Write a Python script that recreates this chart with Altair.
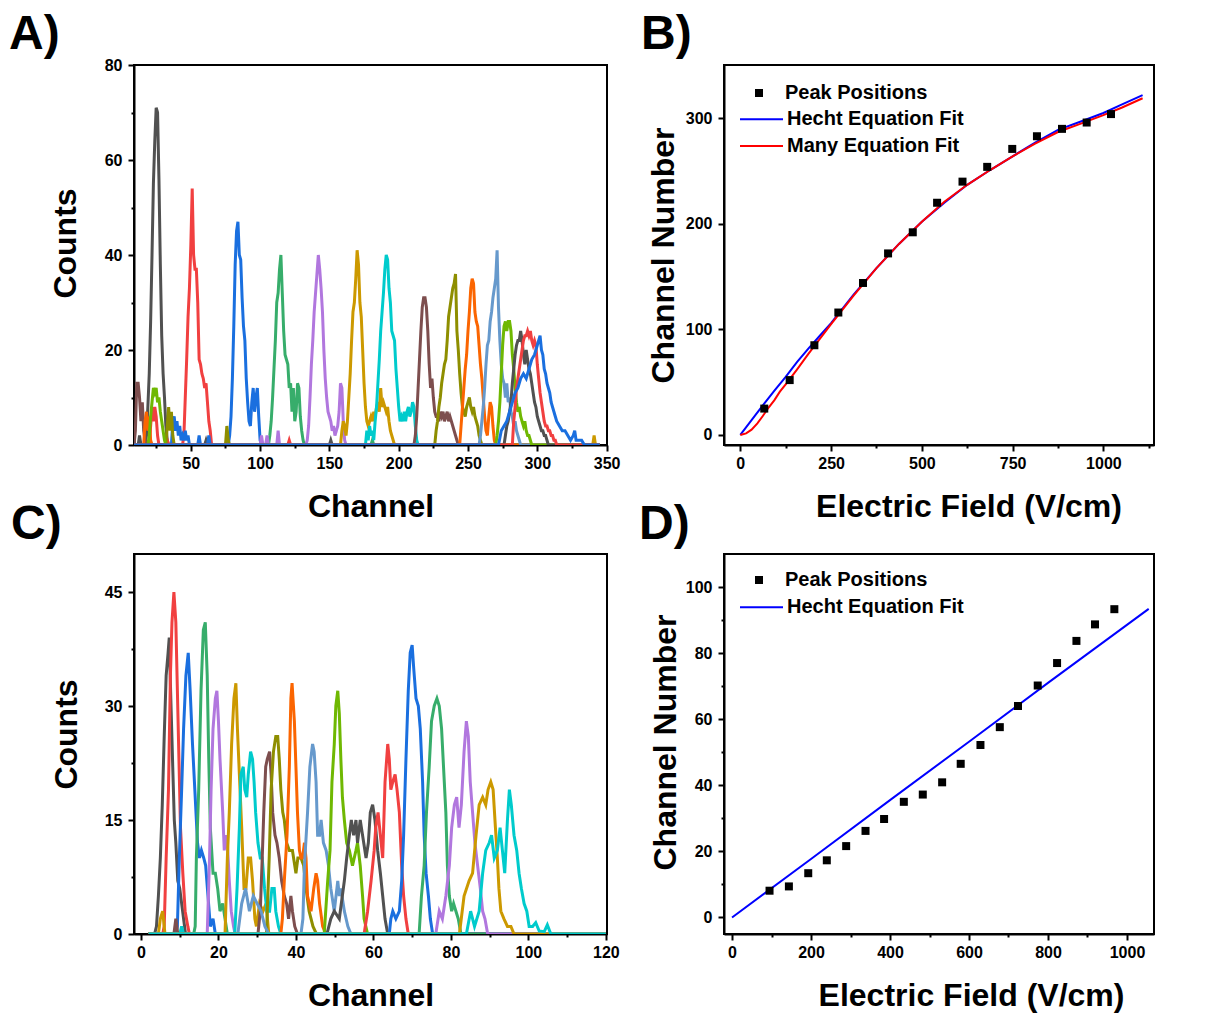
import altair as alt
import pandas as pd

FONT = "Liberation Sans"
PALETTE = ["#515151", "#F14040", "#1A6FDF", "#37AD6B", "#B177DE", "#CC9900",
           "#00CBCC", "#7D4E4E", "#8E8E00", "#FB6501", "#6699CC", "#6FB802"]

# ---------------- Panel A : spectra (channel, counts) ----------------
A01 = [(9,0),(12,0),(13,2),(14,0),(17,0),(18,2),(19,8),(20,15),(21,26),(22,40),(23,55),(24,64),(25,71),(26,70),(27,56),(28,38),(29,23),(30,15),(31,10),(32,4),(33,1),(34,0),(60,0),(61,1),(62,0),(150,0),(151,1),(152,0),(345,0)]
A02 = [(9,0),(20,0),(21,4),(22,8),(23,5),(24,8),(25,6),(26,2),(27,0),(32,0),(33,1),(34,0),(44,0),(45,2),(46,10),(47,18),(48,27),(49,33),(50,42),(51,54),(52,40),(53,37),(54,37),(55,30),(56,18),(57,17),(58,15),(59,14),(60,12),(61,13),(62,9),(63,5),(64,3),(65,0),(120,0),(121,1),(122,0),(345,0)]
A03 = [(9,0),(36,0),(37,5),(38,6),(39,3),(40,5),(41,2),(42,4),(43,1),(44,2),(45,1),(46,3),(47,1),(48,2),(49,0),(55,0),(56,2),(57,0),(62,0),(63,2),(64,0),(77,0),(78,2),(79,6),(80,14),(81,25),(82,38),(83,45),(84,47),(85,40),(86,39),(87,31),(88,25),(89,22),(90,14),(91,9),(92,5),(93,4),(94,9),(95,12),(96,7),(97,10),(98,12),(99,6),(100,1),(101,0),(345,0)]
A04 = [(9,0),(106,0),(107,2),(108,5),(109,10),(110,16),(111,22),(112,30),(113,32),(114,37),(115,40),(116,32),(117,24),(118,19),(119,18),(120,17),(121,12),(122,13),(123,7),(124,12),(125,5),(126,7),(127,13),(128,12),(129,6),(130,3),(131,1),(132,0),(180,0),(181,1),(182,0),(345,0)]
A05 = [(9,0),(100,0),(101,2),(102,0),(104,0),(105,2),(106,0),(112,0),(113,3),(114,0),(133,0),(134,1),(135,4),(136,10),(137,17),(138,22),(139,28),(140,32),(141,36),(142,40),(143,37),(144,33),(145,28),(146,20),(147,14),(148,10),(149,7),(150,6),(151,5),(152,3),(153,4),(154,2),(155,3),(156,4),(157,7),(158,13),(159,12),(160,5),(161,1),(162,0),(345,0)]
A06 = [(9,0),(158,0),(159,3),(160,5),(161,4),(162,2),(163,5),(164,10),(165,15),(166,22),(167,28),(168,30),(169,35),(170,41),(171,38),(172,30),(173,27),(174,20),(175,13),(176,8),(177,5),(178,4),(179,5),(180,6),(181,5),(182,7),(183,6),(184,8),(185,9),(186,7),(187,12),(188,8),(189,9),(190,8),(191,7),(192,8),(193,5),(194,3),(195,2),(196,1),(197,0),(340,0),(341,2),(342,0),(345,0)]
A07 = [(9,0),(176,0),(177,3),(178,1),(179,4),(180,2),(181,3),(182,1),(183,5),(184,8),(185,13),(186,18),(187,24),(188,28),(189,32),(190,37),(191,40),(192,39),(193,33),(194,30),(195,24),(196,23),(197,22),(198,16),(199,12),(200,8),(201,5),(202,6),(203,5),(204,7),(205,5),(206,7),(207,8),(208,6),(209,7),(210,9),(211,8),(212,4),(213,1),(214,0),(345,0)]
A08 = [(9,0),(10,3),(11,13),(12,13),(13,10),(14,5),(15,9),(16,3),(17,1),(18,0),(211,0),(212,2),(213,6),(214,12),(215,18),(216,24),(217,29),(218,31),(219,31),(220,29),(221,24),(222,17),(223,12),(224,14),(225,10),(226,7),(227,6),(228,6),(229,5),(230,7),(231,6),(232,7),(233,5),(234,6),(235,7),(236,5),(237,6),(238,5),(239,4),(240,3),(241,2),(242,1),(243,0),(345,0)]
A09 = [(9,0),(32,0),(33,4),(34,8),(35,3),(36,7),(37,2),(38,0),(75,0),(76,4),(77,1),(78,0),(226,0),(227,3),(228,5),(229,8),(230,10),(231,13),(232,15),(233,17),(234,18),(235,22),(236,27),(237,29),(238,31),(239,33),(240,34),(241,36),(242,24),(243,20),(244,15),(245,11),(246,8),(247,7),(248,6),(249,8),(250,9),(251,10),(252,8),(253,7),(254,8),(255,6),(256,5),(257,4),(258,2),(259,1),(260,0),(345,0)]
A10 = [(9,0),(16,0),(17,5),(18,7),(19,3),(20,6),(21,1),(22,0),(244,0),(245,4),(246,8),(247,12),(248,16),(249,19),(250,24),(251,28),(252,33),(253,35),(254,34),(255,28),(256,26),(257,25),(258,21),(259,17),(260,14),(261,10),(262,6),(263,3),(264,2),(265,6),(266,9),(267,8),(268,4),(269,1),(270,0),(345,0)]
A11 = [(9,0),(258,0),(259,2),(260,5),(261,8),(262,12),(263,17),(264,21),(265,22),(266,26),(267,28),(268,31),(269,33),(270,35),(271,41),(272,29),(273,22),(274,17),(275,14),(276,13),(277,10),(278,13),(279,9),(280,10),(281,7),(282,6),(283,4),(284,5),(285,3),(286,2),(287,1),(288,0),(345,0)]
A12 = [(9,0),(19,0),(20,2),(21,6),(22,9),(23,12),(24,11),(25,12),(26,9),(27,10),(28,7),(29,5),(30,3),(31,1),(32,0),(270,0),(271,2),(272,5),(273,9),(274,15),(275,21),(276,25),(277,26),(278,24),(279,26),(280,26),(281,24),(282,19),(283,16),(284,12),(285,9),(286,7),(287,8),(288,6),(289,5),(290,4),(291,5),(292,3),(293,2),(294,2),(295,1),(296,0),(345,0)]
A13 = [(9,0),(276,0),(277,2),(278,4),(279,5),(280,7),(281,9),(282,13),(283,16),(284,19),(285,21),(286,22),(287,22),(288,24),(289,22),(290,19),(291,17),(292,20),(293,18),(294,16),(295,15),(296,13),(297,11),(298,9),(299,8),(300,6),(301,5),(302,4),(303,3),(304,3),(305,2),(306,2),(307,1),(308,0),(345,0)]
A14 = [(9,0),(282,0),(283,5),(284,8),(285,12),(286,14),(287,16),(288,18),(289,20),(290,22),(291,23),(292,23),(293,24),(294,23),(295,24),(296,22),(297,21),(298,22),(299,21),(300,17),(301,14),(302,11),(303,9),(304,7),(305,5),(306,4),(307,4),(308,3),(309,3),(310,2),(311,2),(312,1),(313,1),(314,0),(345,0)]
A15 = [(9,0),(272,0),(274,3),(276,4),(278,5),(280,7),(282,9),(284,11),(286,12),(288,14),(290,15),(292,14),(294,16),(296,18),(298,19),(299,20),(300,21),(301,22),(302,23),(303,20),(304,19),(305,16),(306,15),(307,13),(308,12),(309,11),(310,9),(311,8),(312,7),(313,6),(314,5),(316,4),(318,3),(320,3),(322,2),(324,1),(326,2),(327,3),(328,1),(330,1),(332,1),(334,0),(345,0)]
A_CURVES = [A01, A02, A03, A04, A05, A06, A07, A08, A09, A10, A11, A12, A13, A14, A15]
A_XTICKS = [50, 100, 150, 200, 250, 300, 350]
A_XMINOR = [25, 75, 125, 175, 225, 275, 325]
A_YTICKS = [0, 20, 40, 60, 80]
A_YMINOR = [10, 30, 50, 70]

# ---------------- Panel C : spectra ----------------
C01 = [(2,0),(3.5,0),(4,1),(4.5,5),(5,10),(5.5,17),(6,26),(6.5,34),(7,37),(7.3,39),(7.7,31),(8.2,22),(8.6,15),(9,12),(9.5,7),(10,6),(10.5,4),(11,2),(11.5,0),(120,0)]
C02 = [(2,0),(5.6,0),(6,1),(6.5,10),(7.1,19),(7.6,34),(8,41),(8.5,45),(9,41),(9.4,32),(9.8,23),(10.2,14),(10.8,8),(11.4,3),(12.1,1),(12.5,0),(120,0)]
C03 = [(2,0),(9,0),(9.4,1),(9.9,10),(10.5,19),(11,27),(11.6,34),(12.2,37),(12.7,32),(13.3,25),(13.9,19),(14.6,12),(15.1,10),(15.6,11),(16.2,10),(16.7,9),(17.3,5),(17.9,1),(18.6,2),(19.2,0),(120,0)]
C04 = [(2,0),(13.6,0),(14,1),(14.3,10),(14.9,19),(15.5,32),(16.1,40),(16.6,41),(17.1,34),(17.5,23),(17.9,14),(18.6,8),(19.2,8),(19.8,6),(20.4,3),(21.1,4),(21.7,2),(22.3,0),(120,0)]
C05 = [(2,0),(17.1,0),(17.7,10),(18.1,19),(18.6,27),(19.2,31),(19.6,32),(20,28),(20.4,23),(21.1,16),(21.5,11),(22,13),(22.3,12),(22.8,7),(23.3,3),(23.9,1),(24.3,0),(120,0)]
C06 = [(2,0),(4.5,0),(5,2),(5.6,3),(6.2,0),(21.7,0),(22.3,10),(22.8,16),(23.4,25),(24,31),(24.5,33),(24.9,27),(25.4,21),(26,14),(26.6,6),(27.1,6),(27.7,10),(28.3,10),(28.8,7),(29.4,2),(29.8,1),(30.6,4),(31.5,3),(32.3,4),(33,0),(120,0)]
C07 = [(2,0),(10,0),(10.5,1),(11,0),(24.2,0),(24.8,6),(25.4,14),(25.8,21),(26.4,22),(26.8,19),(27.3,18),(27.7,21),(28.3,24),(28.8,23),(29.2,20),(29.6,16),(30.2,12),(30.8,10),(31.3,10),(31.9,6),(32.5,3),(33.2,3),(33.8,6),(34.4,6),(34.8,3),(35.5,1),(36.1,0),(120,0)]
C08 = [(2,0),(8.5,0),(9,2),(9.5,0),(30.2,0),(30.8,3),(31.3,10),(31.7,16),(32.2,22),(32.6,23),(33.2,24),(33.6,21),(34,16),(34.6,13),(35.1,12),(35.7,10),(36.3,7),(37,5),(37.6,4),(38.1,2),(38.7,5),(39.1,3),(39.7,1),(40.4,0),(120,0)]
C09 = [(2,0),(32.4,0),(33.1,10),(33.6,19),(34.2,24),(34.8,26),(35.3,26),(35.7,23),(36.1,19),(36.6,16),(37,15),(37.6,12),(38.3,11),(39.1,11),(40,8),(40.5,10),(41.3,10),(42,9),(42.6,6),(43.4,3),(44.4,1),(45.3,0),(120,0)]
C10 = [(2,0),(36.1,0),(36.5,2),(37,7),(37.7,13),(38.3,22),(38.7,31),(39,33),(39.6,28),(40,22),(40.4,16),(40.9,11),(41.3,10),(41.7,10),(42.2,12),(42.6,10),(43,5),(43.9,3),(44.6,6),(45.2,8),(45.6,7),(46.1,4),(46.9,1),(47.7,0),(120,0)]
C11 = [(2,0),(25,0),(26,4),(27,6),(28,3),(29,5),(30,4),(31,3),(32,1),(33,0),(41.3,0),(41.8,2),(42.2,9),(43,16),(43.6,22),(44.3,25),(44.7,24),(45.2,20),(45.6,13),(46.1,13),(46.5,15),(47.1,12),(47.8,11),(48.4,9),(49,6),(49.9,3),(50.8,7),(51.2,5),(51.6,6),(52.5,3),(53.4,1),(54.2,0),(120,0)]
C12 = [(2,0),(47.3,0),(48.2,7),(48.8,11),(49.3,20),(49.9,25),(50.3,30),(50.8,32),(51.2,29),(51.6,23),(52,18),(52.5,15),(53.1,12),(53.8,11),(54.6,9),(55.5,11),(55.9,12),(56.6,9),(57.2,5),(57.6,2),(58.5,0),(120,0)]
C13 = [(2,0),(48,0),(49,2),(49.9,3),(51.2,2),(52.5,7),(53.1,10),(53.8,13),(54.3,15),(54.9,13),(55.5,15),(55.9,12),(56.6,15),(57.2,13),(58.1,10),(58.7,12),(59.2,16),(59.8,17),(60.4,15),(61.1,11),(61.8,8),(62.4,5),(63,2),(63.7,0),(120,0)]
C14 = [(2,0),(57.6,0),(58.5,3),(59.4,7),(60.2,11),(60.6,14),(61.2,16),(61.8,13),(62.4,10),(63,20),(63.7,25),(64.1,23),(64.5,19),(65,20),(65.6,21),(66.1,19),(66.7,16),(67.3,9),(67.8,5),(68.4,2),(69,0),(120,0)]
C15 = [(2,0),(64.1,0),(64.5,2),(65,3),(65.8,2),(66.7,3),(67.3,7),(67.8,13),(68.4,23),(69,32),(69.5,37),(70,38),(70.4,35),(71,31),(71.6,30),(72.1,27),(72.7,20),(73.1,13),(73.6,8),(74.2,5),(74.7,2),(75.3,0),(120,0)]
C16 = [(2,0),(71.8,0),(72.4,5),(73.1,9),(73.7,16),(74.4,22),(75,28),(75.7,30),(76.4,31),(77,30),(77.6,27),(78.1,22),(78.7,16),(79.1,9),(79.6,5),(80.2,3),(80.7,4),(81.3,3),(81.9,2),(82.6,0),(120,0)]
C17 = [(2,0),(76.1,0),(77,3),(77.8,2),(78.7,5),(79.6,9),(80.2,14),(80.9,17),(81.5,18),(82.1,14),(82.7,17),(83.4,24),(84,28),(84.5,26),(85,20),(85.6,16),(86.2,12),(86.9,9),(87.6,6),(88.2,3),(88.8,2),(89.5,0),(120,0)]
C18 = [(2,0),(82.2,0),(83.4,5),(84.7,7),(85.6,8),(86.5,13),(87.3,17),(88.2,18),(89,17),(89.6,19),(90.3,20),(90.9,19),(91.5,14),(92,10),(92.4,6),(92.9,3),(93.7,2),(94.6,1),(95.5,1),(96.3,0),(120,0)]
C19 = [(2,0),(84,0),(85.1,3),(86.1,1),(87.3,3),(88.2,8),(89,11),(89.9,12),(90.5,13),(91.2,10),(92,11),(92.7,14),(93.3,11),(93.9,8),(94.6,15),(95.1,19),(95.6,17),(96.3,13),(97,11),(97.6,8),(98.2,6),(98.9,4),(99.6,3),(100.2,1),(101.1,1),(101.9,1.5),(102.8,0.4),(104.1,0.3),(104.9,1.2),(105.8,0),(120,0)]
C_CURVES = [C01, C02, C03, C04, C05, C06, C07, C08, C09, C10, C11, C12, C13, C14, C15, C16, C17, C18, C19]
C_XTICKS = [0, 20, 40, 60, 80, 100, 120]
C_XMINOR = [10, 30, 50, 70, 90, 110]
C_YTICKS = [0, 15, 30, 45]
C_YMINOR = [7.5, 22.5, 37.5]

# ---------------- Panel B ----------------
B_FIELD = [66, 136, 204, 270, 338, 407, 475, 542, 612, 680, 749, 817, 886, 954, 1021]
B_PEAK = [25, 52, 85, 116, 144, 172, 192, 220, 240, 254, 271, 283, 290, 296, 304]
B_HECHT_E = [0, 31, 62, 94, 125, 156, 188, 219, 250, 312, 375, 437, 500, 562, 625, 688, 750, 812, 875, 938, 1000, 1050, 1108]
B_HECHT_Y = [0, 14, 28, 42, 55, 69, 82, 94, 106, 133, 158, 181, 202, 220, 237, 251, 264, 277, 289, 297, 305, 313, 322]
B_MANY_E = [0, 16, 31, 47, 62, 78, 94, 109, 125, 156, 188, 219, 250, 312, 375, 437, 500, 562, 625, 688, 750, 812, 875, 938, 1000, 1050, 1108]
B_MANY_Y = [0, 1.5, 5, 11, 18, 26, 33, 41, 48, 62, 77, 91, 105, 132, 158, 181, 202, 221, 237, 251, 264, 276, 287, 295, 303, 310, 319]
B_XTICKS = [0, 250, 500, 750, 1000]
B_XMINOR = [125, 375, 625, 875, 1125]
B_YTICKS = [0, 100, 200, 300]

# ---------------- Panel D ----------------
D_FIELD = [95, 144, 193, 240, 289, 338, 385, 435, 483, 532, 579, 629, 678, 724, 774, 823, 872, 919, 968]
D_PEAK = [8.1, 9.4, 13.4, 17.3, 21.6, 26.2, 29.8, 35.0, 37.2, 40.9, 46.5, 52.2, 57.6, 64.0, 70.2, 77.0, 83.7, 88.7, 93.3]
D_HECHT_E = [0, 200, 400, 600, 800, 1055]
D_HECHT_Y = [0, 17.7, 35.5, 53.2, 71.0, 93.4]
D_XTICKS = [0, 200, 400, 600, 800, 1000]
D_XMINOR = [100, 300, 500, 700, 900]
D_YTICKS = [0, 20, 40, 60, 80, 100]
D_YMINOR = [10, 30, 50, 70, 90]


def spectra_df(curves, prefix):
    rows = []
    for i, pts in enumerate(curves):
        name = f"{prefix}{i + 1:02d}"
        for ch, ct in pts:
            rows.append({"curve": name, "channel": ch, "counts": ct})
    return pd.DataFrame(rows)


def major_axis(orient, values, title, title_x=None, title_y=None, label_padding=4):
    kw = dict(orient=orient, values=values, format="d", title=title,
              tickSize=6, tickWidth=2, tickColor="black",
              domain=True, domainColor="black", domainWidth=2, grid=False,
              labelFont=FONT, labelFontSize=16, labelFontWeight="bold",
              labelColor="black", labelPadding=label_padding,
              labelFlush=False, labelOverlap=False,
              titleFont=FONT, titleFontSize=32, titleFontWeight="bold",
              titleColor="black", titleBaseline="middle")
    if title_x is not None:
        kw["titleX"] = title_x
    if title_y is not None:
        kw["titleY"] = title_y
    return alt.Axis(**kw)


def minor_axis(orient, values):
    return alt.Axis(orient=orient, values=values, labels=False, title=None,
                    tickSize=3, tickWidth=2, tickColor="black",
                    domain=False, grid=False)


def minor_layer(xname, yname, xscale, yscale, xvals, yvals, xmid, ymid):
    df = pd.DataFrame({xname: [xmid], yname: [ymid]})
    yaxis = minor_axis("left", yvals) if yvals else None
    return alt.Chart(df).mark_point(opacity=0).encode(
        x=alt.X(f"{xname}:Q", scale=xscale, axis=minor_axis("bottom", xvals)),
        y=alt.Y(f"{yname}:Q", scale=yscale, axis=yaxis),
    )


def label_layer(text, dx, dy):
    return alt.Chart(pd.DataFrame({"t": [text]})).mark_text(
        align="left", baseline="alphabetic", font=FONT, fontSize=48,
        fontWeight="bold", color="black",
    ).encode(text="t:N", x=alt.value(dx), y=alt.value(dy))


def spectra_panel(curves, prefix, xdom, ydom, xt, xm, yt, ym, tag, tag_dx, tag_dy,
                  ytitle_x, ytitle_y, width):
    df = spectra_df(curves, prefix)
    names = [f"{prefix}{i + 1:02d}" for i in range(len(curves))]
    colors = [PALETTE[i % len(PALETTE)] for i in range(len(curves))]
    xs = alt.Scale(domain=xdom, nice=False, zero=False)
    ys = alt.Scale(domain=ydom, nice=False, zero=False)
    lines = alt.Chart(df).mark_line(strokeWidth=3, clip=True).encode(
        x=alt.X("channel:Q", scale=xs,
                axis=major_axis("bottom", xt, "Channel", title_y=61)),
        y=alt.Y("counts:Q", scale=ys,
                axis=major_axis("left", yt, "Counts", title_x=ytitle_x,
                                title_y=ytitle_y, label_padding=6)),
        color=alt.Color("curve:N", scale=alt.Scale(domain=names, range=colors),
                        legend=None),
    )
    minor = minor_layer("channel", "counts", xs, ys, xm, ym,
                        (xdom[0] + xdom[1]) / 2, (ydom[0] + ydom[1]) / 2)
    return alt.layer(lines, minor, label_layer(tag, tag_dx, tag_dy)).resolve_axis(
        x="independent", y="independent").properties(width=width, height=380)


def fit_panel(fit_df, model_names, model_colors, pts_df, xdom, ydom, xt, xm, yt, ym,
              tag, tag_dx, tag_dy, ytitle_x, ytitle_y, xtitle_x, leg_y_pts, leg_y_lines):
    xs = alt.Scale(domain=xdom, nice=False, zero=False)
    ys = alt.Scale(domain=ydom, nice=False, zero=False)
    lines = alt.Chart(fit_df).mark_line(strokeWidth=2, clip=True).encode(
        x=alt.X("field:Q", scale=xs,
                axis=major_axis("bottom", xt, "Electric Field (V/cm)",
                                title_x=xtitle_x, title_y=61)),
        y=alt.Y("channel:Q", scale=ys,
                axis=major_axis("left", yt, "Channel Number", title_x=ytitle_x,
                                title_y=ytitle_y, label_padding=6)),
        color=alt.Color("model:N",
                        scale=alt.Scale(domain=model_names, range=model_colors),
                        legend=alt.Legend(orient="none", legendX=15, legendY=leg_y_lines,
                                          title=None, symbolType="stroke",
                                          symbolSize=1849, symbolStrokeWidth=2,
                                          clipHeight=20, rowPadding=6.7,
                                          labelOffset=3, padding=0, labelLimit=500,
                                          labelFont=FONT, labelFontSize=20,
                                          labelFontWeight="bold", labelColor="black")),
    )
    pts = alt.Chart(pts_df).mark_point(filled=True, size=64, color="black",
                                       opacity=1).encode(
        x=alt.X("field:Q", scale=xs, axis=None),
        y=alt.Y("channel:Q", scale=ys, axis=None),
        shape=alt.Shape("series:N",
                        scale=alt.Scale(domain=["Peak Positions"], range=["square"]),
                        legend=alt.Legend(orient="none", legendX=15, legendY=leg_y_pts,
                                          title=None, symbolSize=64,
                                          symbolStrokeWidth=0, symbolFillColor="black",
                                          symbolOffset=10, labelOffset=16,
                                          clipHeight=20, padding=0, labelLimit=500,
                                          labelFont=FONT, labelFontSize=20,
                                          labelFontWeight="bold", labelColor="black")),
    )
    minor = minor_layer("field", "channel", xs, ys, xm, ym,
                        (xdom[0] + xdom[1]) / 2, (ydom[0] + ydom[1]) / 2)
    return alt.layer(lines, pts, minor, label_layer(tag, tag_dx, tag_dy)).resolve_axis(
        x="independent", y="independent").properties(width=430, height=380)


panel_a = spectra_panel(A_CURVES, "A", [9, 350.3], [0, 80], A_XTICKS, A_XMINOR,
                        A_YTICKS, A_YMINOR, "A)", -125, -16.5, -69, 178, 473)
panel_c = spectra_panel(C_CURVES, "C", [-1.8, 120.3], [0, 50], C_XTICKS, C_XMINOR,
                        C_YTICKS, C_YMINOR, "C)", -123, -15, -68, 180, 473)

b_fit = pd.DataFrame({
    "field": B_HECHT_E + B_MANY_E,
    "channel": B_HECHT_Y + B_MANY_Y,
    "model": ["Hecht Equation Fit"] * len(B_HECHT_E) + ["Many Equation Fit"] * len(B_MANY_E),
})
b_pts = pd.DataFrame({"field": B_FIELD, "channel": B_PEAK,
                      "series": ["Peak Positions"] * len(B_FIELD)})
panel_b = fit_panel(b_fit, ["Hecht Equation Fit", "Many Equation Fit"],
                    ["#0000FF", "#FF0000"], b_pts, [-44.9, 1139.4], [-9.5, 350.5],
                    B_XTICKS, B_XMINOR, B_YTICKS, None, "B)", -83, -16,
                    -60.5, 190, 244.5, 18, 44.3)

d_fit = pd.DataFrame({"field": D_HECHT_E, "channel": D_HECHT_Y,
                      "model": ["Hecht Equation Fit"] * len(D_HECHT_E)})
d_pts = pd.DataFrame({"field": D_FIELD, "channel": D_PEAK,
                      "series": ["Peak Positions"] * len(D_FIELD)})
panel_d = fit_panel(d_fit, ["Hecht Equation Fit"], ["#0000FF"], d_pts,
                    [-20.3, 1068.4], [-5, 110], D_XTICKS, D_XMINOR, D_YTICKS, D_YMINOR,
                    "D)", -85, -15, -59, 188, 247, 16, 43.3)

chart = alt.concat(
    panel_a, panel_b, panel_c, panel_d,
    columns=2, spacing={"row": 109, "column": 117}, bounds="flush",
).resolve_scale(
    color="independent", shape="independent"
).properties(
    padding={"left": 8, "top": 9, "right": 10, "bottom": 10},
    background="white",
).configure_view(stroke="black", strokeWidth=2)

chart.save("out.html", embed_options={"renderer": "svg", "actions": False})
